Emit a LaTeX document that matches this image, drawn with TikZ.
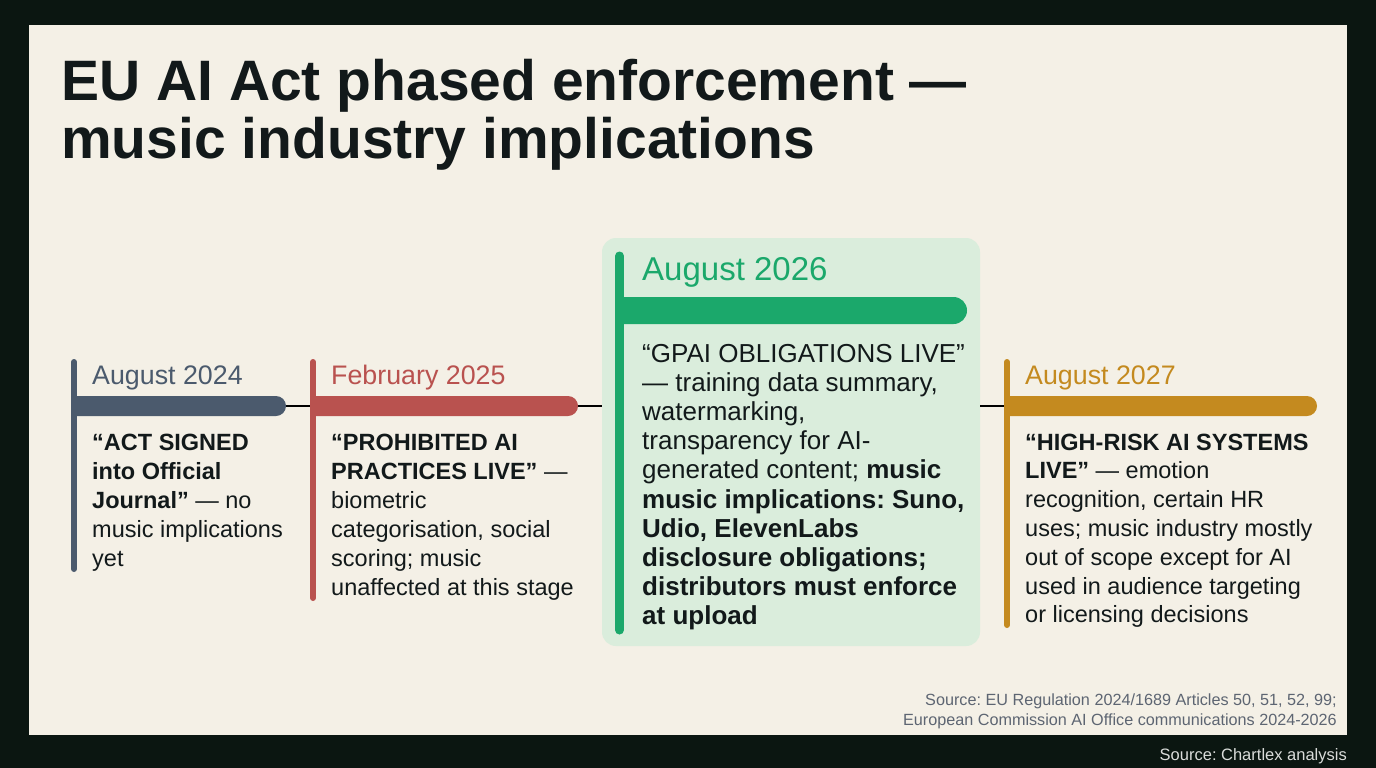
\documentclass[tikz,border=0pt]{standalone}
\usepackage{fontspec}
\setmainfont{Liberation Sans}
\frenchspacing
\definecolor{bgdark}{HTML}{0B1611}
\definecolor{cream}{HTML}{F4F0E6}
\definecolor{inkc}{HTML}{12191A}
\definecolor{slatec}{HTML}{4B5A6D}
\definecolor{redc}{HTML}{B9524F}
\definecolor{greenc}{HTML}{1BA86B}
\definecolor{mintc}{HTML}{DAEDDC}
\definecolor{goldc}{HTML}{C48A1F}
\definecolor{srcgray}{HTML}{5D6572}
\definecolor{footgray}{HTML}{DADCDA}
\tikzset{
  datetxt/.style={anchor=base west, inner sep=0pt, font=\fontsize{26.8}{30}\selectfont},
  bodytxt/.style={anchor=base west, inner sep=0pt, align=left, text=inkc, font=\fontsize{23.5}{29}\selectfont},
  vbar/.style={line width=6pt, line cap=round},
  link/.style={draw=black, line width=1.8pt},
}
\begin{document}
\begin{tikzpicture}[x=1pt,y=-1pt]
\useasboundingbox (0,0) rectangle (1376,768);
\fill[bgdark] (0,0) rectangle (1376,768);
\fill[cream] (29,25) rectangle (1347,735);

% title
\node[anchor=base west, inner sep=0pt, text=inkc, font=\fontsize{57}{58}\selectfont\bfseries] (title1) at (61,100) {EU AI Act phased enforcement —};
\node[anchor=base west, inner sep=0pt, text=inkc, font=\fontsize{57}{58}\selectfont\bfseries] (title2) at (61,158) {music industry implications};

% green highlight panel
\fill[mintc, rounded corners=14pt] (602,238) rectangle (980,646);

% connectors
\coordinate (s1) at (286,406);
\coordinate (s2) at (311,406);
\coordinate (r1) at (578,406);
\coordinate (r2) at (602,406);
\coordinate (g1) at (980,406);
\coordinate (g2) at (1005,406);
\draw[link] (s1) -- (s2);
\draw[link] (r1) -- (r2);
\draw[link] (g1) -- (g2);

% phase 1: slate (body anchored at last baseline)
\draw[vbar, slatec] (74,362) -- (74,569);
\fill[slatec] (71,396) -- (276,396) arc[start angle=-90, end angle=90, radius=10] -- (71,416) -- cycle;
\node[datetxt, text=slatec] (d1) at (92,384) {August 2024};
\node[bodytxt] (b1) at (92,566) {\textbf{“ACT SIGNED}\\\textbf{into Official}\\\textbf{Journal”} — no\\music implications\\yet};

% phase 2: red
\draw[vbar, redc] (313,362) -- (313,598);
\fill[redc] (310,396) -- (568,396) arc[start angle=-90, end angle=90, radius=10] -- (310,416) -- cycle;
\node[datetxt, text=redc] (d2) at (331,384) {February 2025};
\node[bodytxt] (b2) at (331,595) {\textbf{“PROHIBITED AI}\\\textbf{PRACTICES LIVE”} —\\biometric\\categorisation, social\\scoring; music\\unaffected at this stage};

% phase 3: green
\draw[line width=9pt, line cap=round, greenc] (619.5,256) -- (619.5,630);
\fill[greenc] (615,297) -- (953.5,297) arc[start angle=-90, end angle=90, radius=13.5] -- (615,324) -- cycle;
\node[datetxt, text=greenc, font=\fontsize{33}{36}\selectfont] (d3) at (642,280) {August 2026};
\node[bodytxt, font=\fontsize{26}{29.2}\selectfont] (b3) at (642,624.8) {“GPAI OBLIGATIONS LIVE”\\— training data summary,\\watermarking,\\transparency for AI-\\generated content; \textbf{music}\\\textbf{music implications: Suno,}\\\textbf{Udio, ElevenLabs}\\\textbf{disclosure obligations;}\\\textbf{distributors must enforce}\\\textbf{at upload}};

% phase 4: gold
\draw[vbar, goldc] (1007,362) -- (1007,625);
\fill[goldc] (1004,396) -- (1307,396) arc[start angle=-90, end angle=90, radius=10] -- (1004,416) -- cycle;
\node[datetxt, text=goldc] (d4) at (1025,384) {August 2027};
\node[bodytxt, font=\fontsize{23.5}{28.8}\selectfont] (b4) at (1025,622.8) {\textbf{“HIGH-RISK AI SYSTEMS}\\\textbf{LIVE”} — emotion\\recognition, certain HR\\uses; music industry mostly\\out of scope except for AI\\used in audience targeting\\or licensing decisions};

% sources
\node[anchor=base east, inner sep=0pt, align=right, text=srcgray, font=\fontsize{16.2}{20}\selectfont] (src) at (1337,725) {Source: EU Regulation 2024/1689 Articles 50, 51, 52, 99;\\European Commission AI Office communications 2024-2026};
\node[anchor=base east, inner sep=0pt, text=footgray, font=\fontsize{16.5}{20}\selectfont] (foot) at (1347,760) {Source: Chartlex analysis};
\end{tikzpicture}
\end{document}
